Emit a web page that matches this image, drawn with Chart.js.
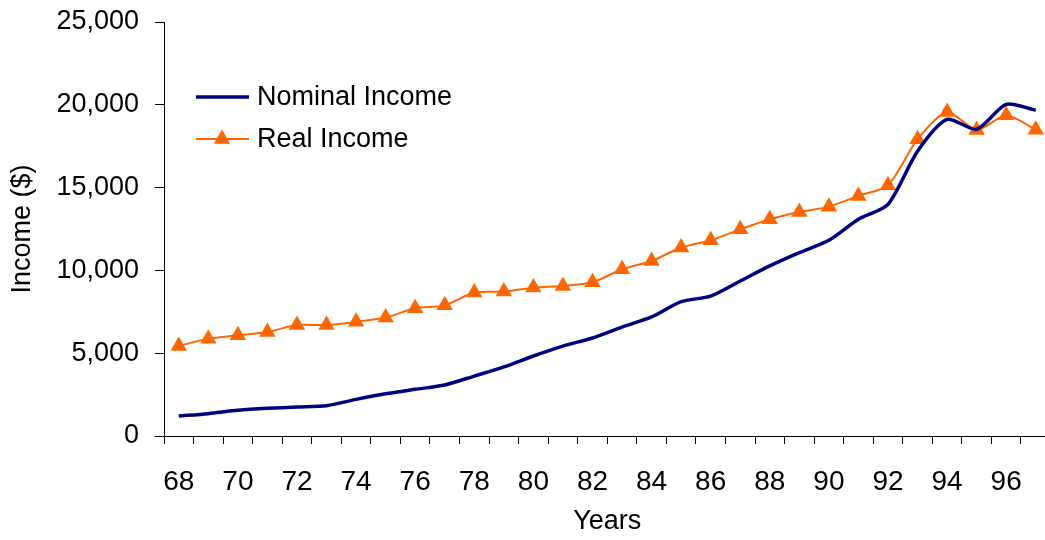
<!DOCTYPE html>
<html>
<head>
<meta charset="utf-8">
<script src="https://cdn.jsdelivr.net/npm/chart.js@4/dist/chart.umd.min.js"></script>
<style>
  html, body { margin: 0; padding: 0; background: #fff; overflow: hidden; }
  #chart { display: block; }
</style>
</head>
<body>
<canvas id="chart" width="1060" height="540"></canvas>
<script>
// years on the x axis (only even ones get a label)
const years = ['68','69','70','71','72','73','74','75','76','77','78','79','80','81','82',
               '83','84','85','86','87','88','89','90','91','92','93','94','95','96','97'];

const nominalIncome = [1210, 1350, 1550, 1670, 1750, 1830, 2210, 2550, 2820, 3080,
                       3620, 4170, 4830, 5430, 5920, 6580, 7190, 8110, 8450, 9360,
                       10270, 11070, 11820, 13090, 13990, 17200, 19120, 18520, 20030, 19670];
const realIncome = [5430, 5880, 6080, 6280, 6700, 6700, 6900, 7150, 7710, 7890,
                    8660, 8720, 8960, 9060, 9280, 10070, 10570, 11380, 11820, 12480,
                    13090, 13530, 13850, 14500, 15140, 17920, 19570, 18480, 19370, 18500];

const yTicks = [0, 5000, 10000, 15000, 20000, 25000];

const FONT = '"Liberation Sans", Arial, sans-serif';
const navy = '#000080';
const orange = '#FF6600';

// legend sits inside the plot, top-left, like the original
const insideLegend = {
  id: 'insideLegend',
  afterDraw(chart) {
    const ctx = chart.ctx;
    const x0 = chart.chartArea.left + 32;
    const y0 = chart.chartArea.top + 75;
    chart.data.datasets.forEach((ds, i) => {
      const y = y0 + i * 42;
      ctx.save();
      ctx.strokeStyle = ds.borderColor;
      ctx.lineWidth = ds.borderWidth;
      ctx.beginPath();
      ctx.moveTo(x0, y);
      ctx.lineTo(x0 + 53, y);
      ctx.stroke();
      if (ds.pointStyle === 'triangle') {
        const cx = x0 + 26, r = ds.pointRadius;
        ctx.fillStyle = ds.pointBackgroundColor;
        ctx.beginPath();
        ctx.moveTo(cx, y - r);
        ctx.lineTo(cx + r * 0.866, y + r / 2);
        ctx.lineTo(cx - r * 0.866, y + r / 2);
        ctx.closePath();
        ctx.fill();
      }
      ctx.fillStyle = '#000';
      ctx.font = '27px ' + FONT;
      ctx.textBaseline = 'alphabetic';
      ctx.fillText(ds.label, x0 + 61, y + 8);
      ctx.restore();
    });
  }
};

new Chart(document.getElementById('chart'), {
  type: 'line',
  data: {
    labels: years,
    datasets: [
      {
        label: 'Nominal Income',
        data: nominalIncome,
        borderColor: navy,
        backgroundColor: navy,
        borderWidth: 3.5,
        pointRadius: 0,
        tension: 0.25
      },
      {
        label: 'Real Income',
        data: realIncome,
        borderColor: orange,
        backgroundColor: orange,
        borderWidth: 2,
        pointStyle: 'triangle',
        pointRadius: 9.5,
        pointBackgroundColor: orange,
        pointBorderColor: orange,
        pointBorderWidth: 0,
        tension: 0.25
      }
    ]
  },
  options: {
    responsive: false,
    animation: false,
    layout: { padding: { top: 22, right: 8, bottom: 0, left: 0 } },
    plugins: {
      legend: { display: false },
      tooltip: { enabled: false }
    },
    scales: {
      x: {
        offset: true,
        grid: {
          offset: true,
          drawOnChartArea: false,
          drawTicks: true,
          tickLength: 8,
          color: '#000'
        },
        border: { color: '#000', width: 1 },
        ticks: {
          autoSkip: false,
          maxRotation: 0,
          padding: 21,
          color: '#000',
          font: { family: FONT, size: 28 },
          callback: (v, i) => (i % 2 === 0 ? years[i] : '')
        },
        title: {
          display: true,
          text: 'Years',
          color: '#000',
          font: { family: FONT, size: 27 },
          padding: { top: 0, bottom: 2 }
        },
        afterFit: (s) => { s.height = 104; s.paddingLeft = 0; s.paddingRight = 0; }
      },
      y: {
        min: 0,
        max: 25000,
        afterBuildTicks: (s) => { s.ticks = yTicks.map(v => ({ value: v })); },
        grid: {
          drawOnChartArea: false,
          drawTicks: true,
          tickLength: 9,
          color: '#000'
        },
        border: { color: '#000', width: 1 },
        ticks: {
          padding: 16,
          color: '#000',
          font: { family: FONT, size: 27 },
          callback: (v) => Number(v).toLocaleString('en-US')
        },
        title: {
          display: true,
          text: 'Income ($)',
          color: '#000',
          font: { family: FONT, size: 27 },
          padding: { top: 6, bottom: 0 }
        },
        afterFit: (s) => { s.width = 164; s.paddingTop = 0; s.paddingBottom = 0; }
      }
    }
  },
  plugins: [insideLegend]
});
</script>
</body>
</html>
